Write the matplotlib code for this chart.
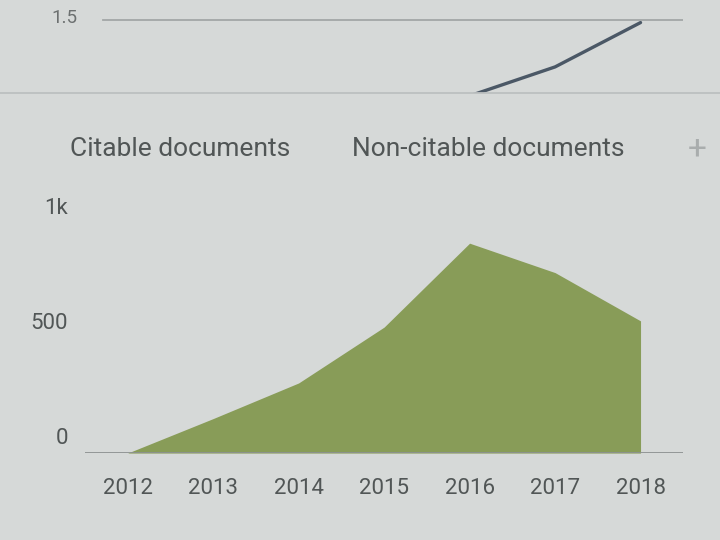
import matplotlib.pyplot as plt
from matplotlib.lines import Line2D

# bottom chart: documents per year
years = [2012, 2013, 2014, 2015, 2016, 2017, 2018]
citable = [0, 150, 305, 548, 913, 785, 575]
y_ticks = [0, 500, 1000]
y_labels = ["0", "500", "1k"]

# top strip: remnant of the chart above (only the end is visible)
top_years = [2016, 2017, 2018]
top_values = [1.12, 1.265, 1.487]
top_grid = 1.5

BG = "#d6d9d8"
GREEN = "#889c58"
TEXT = "#515656"

plt.rcParams["font.family"] = ["Roboto", "DejaVu Sans"]

fig = plt.figure(figsize=(7.2, 5.4), dpi=100, facecolor=BG)

# --- top strip ---
ax_top = fig.add_axes([0.118, 0.828, 0.831, 0.172])
ax_top.set_facecolor(BG)
ax_top.set_xlim(2011.5, 2018.5)
ax_top.set_ylim(1.135, 1.6)
ax_top.axhline(top_grid, xmin=0.03, xmax=1.0, color="#a3a7a7", lw=1.3)
ax_top.plot(top_years, top_values, color="#4b5866", lw=2.4, solid_capstyle="round")
ax_top.text(-0.013, top_grid + 0.01, "1.5", transform=ax_top.get_yaxis_transform(),
            ha="right", va="center", fontsize=13.5, color="#6c7070")
ax_top.axis("off")

# separator between panels
fig.add_artist(Line2D([0, 1], [0.828, 0.828], transform=fig.transFigure,
                      color="#bcc0c0", lw=1.3))

# --- legend row ---
fig.text(70 / 720, 1 - 149 / 540, "Citable documents", fontsize=19,
         color=TEXT, ha="left", va="center")
fig.text(352 / 720, 1 - 149 / 540, "Non-citable documents", fontsize=19,
         color=TEXT, ha="left", va="center")
fig.text(697 / 720, 1 - 149 / 540, "+", fontsize=24, color="#a9adad",
         ha="center", va="center")

# --- area chart ---
ax = fig.add_axes([0.118, 0.161, 0.831, 0.444])
ax.set_facecolor(BG)
ax.set_xlim(2011.5, 2018.5)
ax.set_ylim(0, 1043)
ax.fill_between(years, citable, 0, color=GREEN, lw=0)
ax.axhline(0, color="#8c9191", lw=2)

for v, lab in zip(y_ticks, y_labels):
    ax.annotate(lab, xy=(-0.028, v), xycoords=ax.get_yaxis_transform(),
                xytext=(0, 3), textcoords="offset points",
                ha="right", va="bottom", fontsize=16, color=TEXT)

for yr in years:
    ax.annotate(str(yr), xy=(yr, 0), xycoords="data",
                xytext=(0, -18), textcoords="offset points",
                ha="center", va="top", fontsize=16, color=TEXT)

for s in ax.spines.values():
    s.set_visible(False)
ax.set_xticks([])
ax.set_yticks([])

fig.savefig("out.png", dpi=100, facecolor=BG)
